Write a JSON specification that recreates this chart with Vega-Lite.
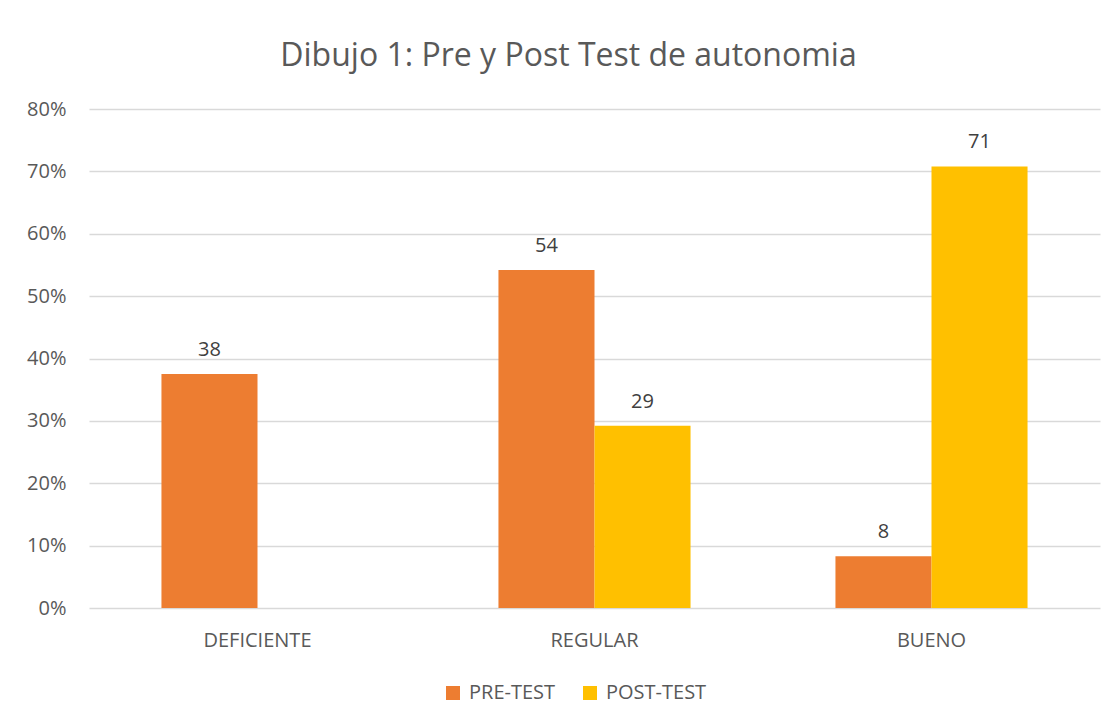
{
  "$schema": "https://vega.github.io/schema/vega-lite/v6.json",
  "width": 1011,
  "height": 499,
  "autosize": "none",
  "padding": {"left": 89, "top": 109, "right": 18, "bottom": 116},
  "background": "white",
  "config": {"view": {"stroke": null}, "font": "Open Sans"},
  "title": {
    "text": "Dibujo 1: Pre y Post Test de autonomia",
    "fontSize": 32,
    "fontWeight": "normal",
    "color": "#595959",
    "anchor": "middle",
    "dx": -26,
    "offset": 1,
    "baseline": "alphabetic"
  },
  "data": {
    "values": [
      {"categoria": "DEFICIENTE", "serie": "PRE-TEST", "valor": 37.5},
      {"categoria": "REGULAR", "serie": "PRE-TEST", "valor": 54.2},
      {"categoria": "REGULAR", "serie": "POST-TEST", "valor": 29.2},
      {"categoria": "BUENO", "serie": "PRE-TEST", "valor": 8.3},
      {"categoria": "BUENO", "serie": "POST-TEST", "valor": 70.8}
    ]
  },
  "encoding": {
    "x": {
      "field": "categoria",
      "type": "nominal",
      "sort": ["DEFICIENTE", "REGULAR", "BUENO"],
      "scale": {"paddingInner": 0.43, "paddingOuter": 0.215},
      "axis": {
        "title": null,
        "labelAngle": 0,
        "domain": false,
        "ticks": false,
        "labelFontSize": 20,
        "labelColor": "#595959",
        "labelPadding": 38,
        "labelBaseline": "alphabetic"
      }
    },
    "xOffset": {
      "field": "serie",
      "type": "nominal",
      "sort": ["PRE-TEST", "POST-TEST"],
      "scale": {"domain": ["PRE-TEST", "POST-TEST"], "paddingInner": 0, "paddingOuter": 0}
    },
    "y": {
      "field": "valor",
      "type": "quantitative",
      "scale": {"domain": [0, 80]},
      "axis": {
        "title": null,
        "values": [0, 10, 20, 30, 40, 50, 60, 70, 80],
        "labelExpr": "datum.value + '%'",
        "domain": false,
        "ticks": false,
        "labelFontSize": 20,
        "labelColor": "#595959",
        "labelPadding": 23,
        "gridColor": "#D9D9D9",
        "gridWidth": 1.3
      }
    }
  },
  "layer": [
    {
      "mark": {"type": "bar"},
      "encoding": {
        "color": {
          "field": "serie",
          "type": "nominal",
          "sort": ["PRE-TEST", "POST-TEST"],
          "scale": {"domain": ["PRE-TEST", "POST-TEST"], "range": ["#ED7D31", "#FFC000"]},
          "legend": {
            "title": null,
            "orient": "none",
            "legendX": 354,
            "legendY": 574,
            "direction": "horizontal",
            "symbolType": "square",
            "symbolSize": 196,
            "symbolStrokeWidth": 0,
            "labelFontSize": 20,
            "labelColor": "#595959",
            "columnPadding": 24,
            "labelOffset": 6
          }
        }
      }
    },
    {
      "mark": {"type": "text", "dy": -18, "baseline": "alphabetic", "fontSize": 20, "color": "#404040"},
      "encoding": {
        "text": {"field": "valor", "type": "quantitative", "format": ".0f"}
      }
    }
  ]
}
